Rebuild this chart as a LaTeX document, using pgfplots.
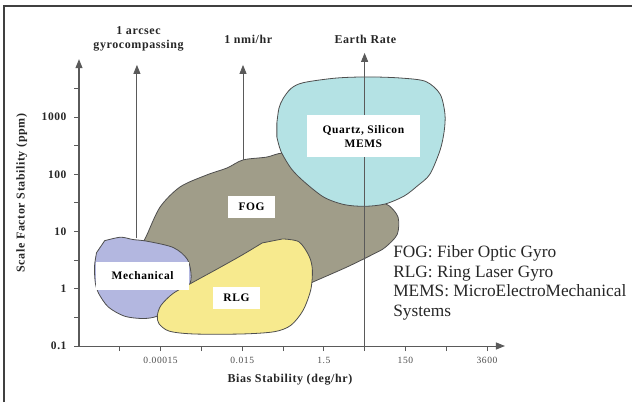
\documentclass[border=0pt]{standalone}
\usepackage{fontspec}
\setmainfont{Liberation Serif}
\usepackage{pgfplots}
\pgfplotsset{compat=1.18}
\usetikzlibrary{arrows.meta}
\definecolor{memsc}{HTML}{B4E2E4}
\definecolor{fogc}{HTML}{A09D89}
\definecolor{mechc}{HTML}{B3B7E0}
\definecolor{rlgc}{HTML}{F7EA8E}
\definecolor{edgec}{HTML}{4E4E4E}
\definecolor{axc}{HTML}{5A5A5A}
\newcommand{\bl}[1]{\bfseries\fontsize{#1}{14}\selectfont\addfontfeatures{LetterSpace=5}}
\begin{document}
\begin{tikzpicture}
\useasboundingbox (0,0) rectangle (632pt,402pt);
\draw[line width=1.5pt, draw=black!75] (4pt,0pt) -- (4pt,396pt) -- (632pt,396pt);
\begin{axis}[
  at={(79pt,56pt)}, anchor=south west,
  x=40.8pt, y=57.25pt,
  xmin=0, xmax=10.44, ymin=0, ymax=5.01,
  enlargelimits=false, clip=false,
  axis lines=left,
  axis line style={draw=axc, line width=1pt, -{Triangle[length=9pt,width=7pt]}},
  xtick={2,4,6,8,10}, xticklabels={0.00015,0.015,1.5,150,3600},
  minor xtick={1,3,5,7,9},
  ytick={0,1,2,3,4}, yticklabels={0.1,1,10,100,1000},
  minor ytick={0.5,1.5,2.5,3.5,4.5},
  tick align=outside, major tick length=5pt, minor tick length=5pt,
  every tick/.style={draw=axc, line width=0.8pt},
  yticklabel style={font=\bl{11.5}, text=black!85, xshift=-4pt},
  xticklabel style={font=\fontsize{9.5}{11}\selectfont\addfontfeatures{LetterSpace=6}, text=black!70, yshift=-3pt},
]
% FOG
\addplot[fill=fogc, draw=edgec, line width=0.8pt, smooth, tension=0.5] coordinates {
(1.6,1.85) (1.67,1.95) (1.99,2.43) (2.48,2.78) (3.14,2.99) (3.63,3.11) (4.02,3.25)
(4.6,3.30) (5.0,3.37) (5.6,3.3) (6.5,2.8) (7.3,2.55) (7.6,2.45) (7.82,2.25)
(7.8,1.95) (7.5,1.72) (7.2,1.6) (6.57,1.38) (5.74,1.12) (5.2,0.95) (4.0,0.9)
(3.0,0.95) (2.5,1.0) (2.2,1.3) (1.9,1.6)} -- cycle;
% MEMS
\addplot[fill=memsc, draw=edgec, line width=0.8pt, smooth, tension=0.5] coordinates {
(4.85,3.9) (4.9,4.15) (5.0,4.32) (5.2,4.5) (5.5,4.6) (6.3,4.68) (7.1,4.70) (7.9,4.68)
(8.5,4.62) (8.85,4.4) (8.97,4.05) (8.95,3.75) (8.85,3.42) (8.6,3.0) (8.3,2.8)
(7.97,2.62) (7.5,2.48) (7.0,2.44) (6.5,2.47) (6.0,2.6) (5.5,2.88) (5.2,3.1)
(4.95,3.4) (4.85,3.65)} -- cycle;
% Mechanical
\addplot[fill=mechc, draw=edgec, line width=0.8pt, smooth, tension=0.5] coordinates {
(0.63,1.84) (1.02,1.90) (1.32,1.86) (1.67,1.83) (2.31,1.72) (2.66,1.51) (2.75,1.21)
(2.66,0.98) (2.41,0.84) (2.21,0.68) (1.91,0.52) (1.57,0.48) (1.12,0.52) (0.72,0.68)
(0.48,0.92) (0.40,1.10) (0.38,1.39) (0.43,1.63)} -- cycle;
% RLG
\addplot[fill=rlgc, draw=edgec, line width=0.8pt, smooth, tension=0.5] coordinates {
(4.99,1.87) (5.39,1.82) (5.64,1.57) (5.72,1.33) (5.68,0.98) (5.49,0.62) (5.19,0.36)
(4.79,0.25) (4.0,0.21) (2.81,0.21) (2.21,0.26) (1.96,0.39) (1.92,0.53) (2.01,0.71)
(2.31,0.92) (2.81,1.12) (3.40,1.35) (4.0,1.59) (4.49,1.80)} -- cycle;
% reference lines
\addplot[draw=axc, line width=0.9pt, -{Triangle[length=9pt,width=7pt]}] coordinates {(1.42,1.88) (1.42,4.91)};
\addplot[draw=axc, line width=0.9pt, -{Triangle[length=9pt,width=7pt]}] coordinates {(4.02,3.25) (4.02,4.91)};
\addplot[draw=axc, line width=0.9pt, -{Triangle[length=9pt,width=7pt]}] coordinates {(7.0,0) (7.0,5.12)};
% label boxes
\node[fill=white, font=\bl{11.5}, align=center, minimum width=113pt, minimum height=42pt, inner sep=1pt] at (axis cs:6.97,3.66) {Quartz, Silicon\\MEMS};
\node[fill=white, font=\bl{11.5}, minimum width=47pt, minimum height=22pt, inner sep=1pt] at (axis cs:4.23,2.43) {FOG};
\node[fill=white, font=\bl{11.5}, minimum width=93pt, minimum height=28pt, inner sep=1pt] at (axis cs:1.56,1.23) {Mechanical};
\node[fill=white, font=\bl{11.5}, minimum width=47pt, minimum height=22pt, inner sep=1pt] at (axis cs:3.86,0.84) {RLG};
% top labels
\node[font=\bl{12}, align=center, text=black!85] at (axis cs:1.46,5.36) {1 arcsec\\gyrocompassing};
\node[font=\bl{12}, text=black!85] at (axis cs:4.15,5.36) {1 nmi/hr};
\node[font=\bl{12}, text=black!85] at (axis cs:7.02,5.36) {Earth Rate};
% axis labels
\node[font=\bl{12}, text=black!85] at (axis cs:5.17,-0.59) {Bias Stability (deg/hr)};
\node[font=\bl{12}, text=black!85, rotate=90] at (axis cs:-1.40,2.67) {Scale Factor Stability (ppm)};
% legend text
\node[anchor=base west, font=\fontsize{17.3}{20}\selectfont, text=black!85, inner sep=0pt] at (axis cs:7.70,1.55) {FOG: Fiber Optic Gyro};
\node[anchor=base west, font=\fontsize{17.3}{20}\selectfont, text=black!85, inner sep=0pt] at (axis cs:7.70,1.20) {RLG: Ring Laser Gyro};
\node[anchor=base west, font=\fontsize{17.3}{20}\selectfont, text=black!85, inner sep=0pt] at (axis cs:7.70,0.86) {MEMS: MicroElectroMechanical};
\node[anchor=base west, font=\fontsize{17.3}{20}\selectfont, text=black!85, inner sep=0pt] at (axis cs:7.70,0.52) {Systems};
\end{axis}
\end{tikzpicture}
\end{document}
